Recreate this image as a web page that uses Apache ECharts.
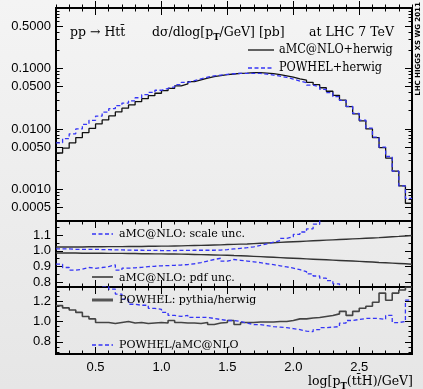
<!DOCTYPE html>
<html><head><meta charset="utf-8">
<script src="https://cdn.jsdelivr.net/npm/echarts@6/dist/echarts.min.js"></script>
<style>html,body{margin:0;padding:0;background:#eeeeee}#c{width:423px;height:389px}</style>
</head><body><div id="c"></div>
<script>
// ---------- data ----------
const binEdges = [0.20,0.25,0.30,0.35,0.40,0.45,0.50,0.55,0.60,0.65,0.70,0.75,0.80,0.85,0.90,0.95,1.00,1.05,1.10,1.15,1.20,1.25,1.30,1.35,1.40,1.45,1.50,1.55,1.60,1.65,1.70,1.75,1.80,1.85,1.90,1.95,2.00,2.05,2.10,2.15,2.20,2.25,2.30,2.35,2.40,2.45,2.50,2.55,2.60,2.65,2.70,2.75,2.80,2.85,2.90];

const amcHerwig = [0.0040,0.0048,0.0059,0.0072,0.0087,0.0102,0.0121,0.0141,0.0164,0.0191,0.0220,0.0249,0.0283,0.0317,0.0355,0.0389,0.0430,0.0470,0.0514,0.0554,0.0605,0.0646,0.0689,0.0733,0.0762,0.0790,0.0810,0.0830,0.0840,0.0853,0.0853,0.0840,0.0820,0.0790,0.0755,0.0718,0.0674,0.0640,0.0590,0.0540,0.0480,0.0420,0.0360,0.0300,0.0234,0.0177,0.0136,0.0100,0.0072,0.0049,0.0033,0.0020,0.00114,0.00059];

const powhelHerwig = [0.0059,0.0069,0.0083,0.0100,0.0119,0.0139,0.0163,0.0189,0.0216,0.0243,0.0268,0.0291,0.0328,0.0368,0.0401,0.0436,0.0469,0.0498,0.0540,0.0587,0.0629,0.0672,0.0717,0.0755,0.0777,0.0798,0.0818,0.0830,0.0827,0.0827,0.0827,0.0806,0.0779,0.0747,0.0710,0.0668,0.0620,0.0579,0.0531,0.0497,0.0451,0.0397,0.0342,0.0296,0.0236,0.0181,0.0140,0.0103,0.0073,0.0050,0.0035,0.0020,0.00114,0.00071];

const scaleUp = [1.012,1.012,1.010,1.010,1.010,1.010,1.008,1.008,1.006,1.006,1.005,1.004,1.004,1.003,1.003,1.002,1.002,1.002,1.003,1.003,1.004,1.004,1.004,1.004,1.005,1.008,1.012,1.016,1.020,1.026,1.035,1.045,1.055,1.065,1.080,1.090,1.105,1.120,1.140,1.170,1.210,null,null,null,null,null,null,null,null,null,null,null,null,null];

const scaleDown = [0.915,0.894,0.877,0.883,0.894,0.889,0.894,0.900,0.911,0.877,0.890,0.892,0.895,0.900,0.902,0.905,0.906,0.908,0.910,0.913,0.918,0.925,0.935,0.945,0.953,0.935,0.945,0.940,0.935,0.930,0.925,0.918,0.912,0.905,0.898,0.890,0.880,0.868,0.853,0.840,0.826,0.810,0.790,0.760,null,null,null,null,null,null,null,null,null,null];

const pdfUp = [1.025,1.025,1.025,1.025,1.026,1.026,1.026,1.027,1.027,1.027,1.028,1.028,1.028,1.029,1.029,1.030,1.030,1.031,1.032,1.033,1.034,1.035,1.036,1.037,1.038,1.040,1.041,1.043,1.044,1.046,1.048,1.050,1.052,1.054,1.056,1.058,1.060,1.062,1.064,1.066,1.068,1.070,1.072,1.074,1.076,1.078,1.080,1.082,1.084,1.087,1.090,1.092,1.095,1.098];

const pdfDown = [0.986,0.986,0.986,0.985,0.985,0.985,0.985,0.984,0.984,0.984,0.983,0.983,0.982,0.982,0.981,0.981,0.980,0.980,0.979,0.978,0.977,0.976,0.975,0.974,0.973,0.972,0.970,0.969,0.967,0.965,0.963,0.961,0.959,0.957,0.955,0.953,0.951,0.949,0.947,0.945,0.943,0.941,0.939,0.937,0.935,0.933,0.931,0.929,0.926,0.924,0.922,0.920,0.918,0.915];

const pythiaOverHerwig = [1.157,1.134,1.114,1.090,1.050,1.026,0.990,0.990,0.980,0.990,1.000,0.985,0.990,0.980,0.985,0.990,0.985,1.010,0.990,0.985,0.985,0.980,0.990,0.970,0.985,0.990,1.010,0.970,0.990,0.990,0.995,0.995,0.995,1.000,1.000,1.010,1.026,1.026,1.035,1.040,1.050,1.060,1.075,1.100,1.060,1.100,1.130,1.150,1.190,1.280,1.210,1.280,1.310,1.340];

const powhelOverAmc = [1.49,1.44,1.41,1.39,1.37,1.36,1.35,1.35,1.32,1.27,1.22,1.17,1.16,1.16,1.13,1.12,1.09,1.06,1.05,1.06,1.04,1.04,1.04,1.03,1.02,1.01,1.01,1.00,0.985,0.97,0.97,0.96,0.95,0.945,0.94,0.93,0.92,0.905,0.90,0.92,0.94,0.945,0.95,0.985,1.01,1.02,1.03,1.03,1.03,1.02,1.06,0.99,1.00,1.21];

const xTickLabels = [0.5,1.0,1.5,2.0,2.5];
const mainTickLabels = [0.5,0.1,0.05,0.01,0.005,0.001,0.0005];
const midTickLabels = [0.8,0.9,1.0,1.1];
const lowTickLabels = [0.8,1.0,1.2];

// ---------- helpers ----------
function stepData(vals, tf){
  const f = tf || (v => v);
  const d = [];
  for (let i = 0; i < vals.length; i++){
    const v = vals[i];
    if (v == null){ d.push([binEdges[i], null]); continue; }
    d.push([binEdges[i], f(v)]);
    if (i === vals.length - 1 || vals[i+1] == null) d.push([binEdges[i+1], f(v)]);
  }
  return d;
}
const lg = Math.log10;
const X_MIN = 0.2, X_MAX = 2.9;
const MAIN_MIN = lg(0.0003), MAIN_MAX = 0;
const MID_MIN = 0.77, MID_MAX = 1.19;
const LOW_MIN = 0.68, LOW_MAX = 1.34;

const xMinor = []; for (let k = 2; k <= 29; k++) xMinor.push(k/10);
const mainMinor = []; for (let n = -4; n <= -1; n++) for (let k = 1; k <= 9; k++){ const v = k*Math.pow(10,n); if (v >= 0.0003 && v <= 1) mainMinor.push(lg(v)); }
const midMinor = [0.8,0.85,0.9,0.95,1.0,1.05,1.1,1.15];
const lowMinor = [0.7,0.75,0.8,0.85,0.9,0.95,1.0,1.05,1.1,1.15,1.2,1.25,1.3];

const labelFont = {fontFamily:'Liberation Sans', fontSize:13, color:'#000'};
const tickStyle = {color:'#000', width:1};

const rects = [
  {left:56, top:8, width:356, height:213},
  {left:56, top:221, width:356, height:66},
  {left:56, top:287, width:356, height:67}
];
const grids = [];
rects.forEach(r => grids.push(Object.assign({show:true, borderColor:'#000', borderWidth:2, backgroundColor:'transparent'}, r)));
rects.forEach(r => grids.push(Object.assign({show:false}, r)));

const xAxes = [], yAxes = [];
function xa(gi, pos, vals, len, showLabel){
  xAxes.push({type:'value', gridIndex:gi, position:pos, min:X_MIN, max:X_MAX,
    axisLine:{show:false}, splitLine:{show:false},
    axisTick:{show:true, inside:true, length:len, customValues:vals, lineStyle:tickStyle},
    axisLabel:{show:!!showLabel, customValues:vals, margin:7, formatter:v => v.toFixed(1), ...labelFont}});
}
function ya(gi, pos, min, max, vals, len, showLabel, fmt){
  yAxes.push({type:'value', gridIndex:gi, position:pos, min:min, max:max,
    axisLine:{show:false}, splitLine:{show:false},
    axisTick:{show:true, inside:true, length:len, customValues:vals, lineStyle:tickStyle},
    axisLabel:{show:!!showLabel, customValues:vals, margin:5, formatter:fmt, ...labelFont}});
}
const f4 = v => Math.pow(10, v).toFixed(4);
const f1 = v => v.toFixed(1);
// major axes (grids 0-2)
xa(0,'bottom',xTickLabels,7,false); xa(0,'top',xTickLabels,7,false);
xa(1,'bottom',xTickLabels,7,false); xa(1,'top',xTickLabels,7,false);
xa(2,'bottom',xTickLabels,7,true);  xa(2,'top',xTickLabels,7,false);
ya(0,'left',MAIN_MIN,MAIN_MAX,mainTickLabels.map(lg),7,true,f4); ya(0,'right',MAIN_MIN,MAIN_MAX,mainTickLabels.map(lg),7,false,f4);
ya(1,'left',MID_MIN,MID_MAX,midTickLabels,7,true,f1); ya(1,'right',MID_MIN,MID_MAX,midTickLabels,7,false,f1);
ya(2,'left',LOW_MIN,LOW_MAX,lowTickLabels,7,true,f1); ya(2,'right',LOW_MIN,LOW_MAX,lowTickLabels,7,false,f1);
// minor axes (grids 3-5)
xa(3,'bottom',xMinor,3.5); xa(3,'top',xMinor,3.5);
xa(4,'bottom',xMinor,3.5); xa(4,'top',xMinor,3.5);
xa(5,'bottom',xMinor,3.5); xa(5,'top',xMinor,3.5);
ya(3,'left',MAIN_MIN,MAIN_MAX,mainMinor,3.5); ya(3,'right',MAIN_MIN,MAIN_MAX,mainMinor,3.5);
ya(4,'left',MID_MIN,MID_MAX,midMinor,3.5); ya(4,'right',MID_MIN,MID_MAX,midMinor,3.5);
ya(5,'left',LOW_MIN,LOW_MAX,lowMinor,3.5); ya(5,'right',LOW_MIN,LOW_MAX,lowMinor,3.5);

const BLUE = '#3535f5';
const DASH = [4, 2.5];
function stepSeries(name, data, xi, yi, color, width, dash){
  return {name, type:'line', step:'end', xAxisIndex:xi, yAxisIndex:yi, data, symbol:'none',
    clip:true, silent:true, animation:false,
    lineStyle:{color, width, type: dash || 'solid'}};
}
const series = [
  stepSeries('aMC@NLO+herwig', stepData(amcHerwig, lg), 0, 0, '#111', 1.3),
  stepSeries('POWHEL+herwig', stepData(powhelHerwig, lg), 0, 0, BLUE, 1.3, DASH),
  stepSeries('pdf up', stepData(pdfUp), 2, 2, '#333', 1.4),
  stepSeries('pdf down', stepData(pdfDown), 2, 2, '#333', 1.4),
  stepSeries('scale up', stepData(scaleUp), 2, 2, BLUE, 1.3, DASH),
  stepSeries('scale down', stepData(scaleDown), 2, 2, BLUE, 1.3, DASH),
  stepSeries('POWHEL: pythia/herwig', stepData(pythiaOverHerwig), 4, 4, '#444', 1.6),
  stepSeries('POWHEL/aMC@NLO', stepData(powhelOverAmc), 4, 4, BLUE, 1.3, DASH)
];

const SERIF = '"DejaVu Serif"';
const SERIF_C = '"DejaVu Serif Condensed", "DejaVu Serif"';
function txt(x, y, text, size, align, fam){
  return {type:'text', x, y, silent:true, z:100,
    style:{x:0, y:0, text, font: size + 'px ' + (fam || SERIF), fill:'#000', textAlign: align || 'left', textVerticalAlign:'middle'}};
}
function richTxt(x, y, text, size, align){
  return {type:'text', x, y, silent:true, z:100,
    style:{x:0, y:0, text, textAlign: align || 'left', textVerticalAlign:'middle', fill:'#000',
      rich:{a:{fontFamily:'DejaVu Serif', fontSize:size, lineHeight:19, color:'#000'},
            s:{fontFamily:'DejaVu Serif', fontSize:8.5, fontWeight:'bold', verticalAlign:'bottom', color:'#000'}}}};
}
function seg(x1, y1, x2, y2, color, w, dash){
  return {type:'line', silent:true, z:100, shape:{x1,y1,x2,y2}, style:{stroke:color, lineWidth:w, lineDash: dash || null}};
}

const graphic = [
  txt(70, 33, 'pp \u2192 Htt\u0304', 12.5),
  richTxt(152, 33, '{a|d\u03c3/dlog[p}{s|T}{a|/GeV] [pb]}', 12.5),
  txt(394, 33, 'at LHC 7 TeV', 12.5, 'right'),
  seg(248, 50, 274, 50, '#111', 1.3),
  txt(279, 50, 'aMC@NLO+herwig', 12.5, 'left', SERIF_C),
  seg(248, 68, 274, 68, BLUE, 1.3, DASH),
  txt(279, 68, 'POWHEL+herwig', 12.5, 'left', SERIF_C),
  seg(92, 234, 113, 234, BLUE, 1.3, DASH),
  txt(119, 234, 'aMC@NLO: scale unc.', 11),
  seg(92, 277, 113, 277, '#111', 1.3),
  txt(119, 278, 'aMC@NLO: pdf unc.', 11),
  seg(92, 300, 113, 300, '#555', 3),
  txt(119, 300, 'POWHEL: pythia/herwig', 11),
  seg(92, 345, 113, 345, BLUE, 1.3, DASH),
  txt(119, 345, 'POWHEL/aMC@NLO', 11),
  richTxt(413, 382, '{a|log[p}{s|T}{a|(tt\u0304H)/GeV]}', 12.5, 'right'),
  {type:'text', x:418, y:49, rotation:Math.PI/2, silent:true, z:100,
   style:{x:0, y:0, text:'LHC HIGGS XS WG 2011', font:'bold 7px "DejaVu Sans"', fill:'#000', textAlign:'center', textVerticalAlign:'middle'}}
];

const chart = echarts.init(document.getElementById('c'), null, {renderer:'canvas', width:423, height:389});
chart.setOption({
  animation:false,
  backgroundColor:{type:'linear', x:0, y:0, x2:0, y2:1, colorStops:[{offset:0, color:'#f4f4f4'},{offset:1, color:'#e6e6e6'}]},
  grid: grids,
  xAxis: xAxes,
  yAxis: yAxes,
  series,
  graphic
});
</script>
</body></html>
